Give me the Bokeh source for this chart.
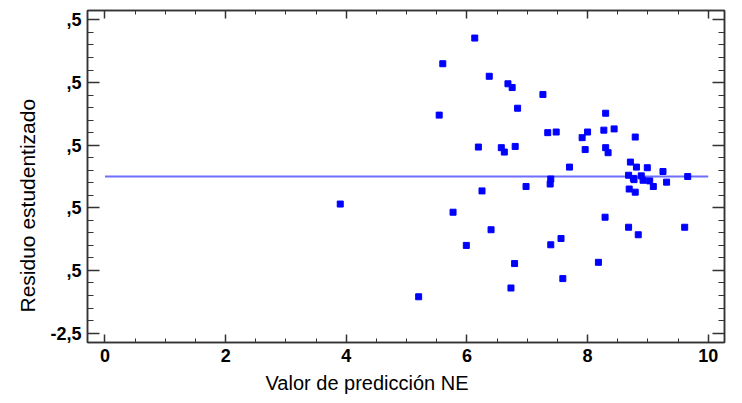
import numpy as np
from bokeh.plotting import figure
from bokeh.models import LinearAxis, FixedTicker, Range1d, ColumnDataSource, Title
from bokeh.embed import file_html
from bokeh.resources import INLINE

# ---- data ----
pred = [3.90, 5.20, 5.54, 5.60, 5.77, 5.99, 6.13, 6.19, 6.25, 6.37,
        6.40, 6.57, 6.62, 6.68, 6.75, 6.80, 6.84, 6.73, 6.79, 6.98,
        7.26, 7.34, 7.48, 7.39, 7.38, 7.39, 7.56, 7.59, 7.70, 7.91,
        8.00, 7.96, 8.18, 8.30, 8.27, 8.44, 8.30, 8.34, 8.29, 8.79,
        8.71, 8.81, 8.99, 9.25, 8.68, 8.76, 8.77, 8.89, 8.92, 9.03,
        9.09, 9.31, 9.66, 8.69, 8.79, 8.68, 8.84, 9.61]
resid = [-0.44, -1.92, 0.98, 1.80, -0.57, -1.10, 2.21, 0.47, -0.23, 1.60,
         -0.85, 0.46, 0.39, 1.48, 1.42, 0.48, 1.09, -1.78, -1.39, -0.16,
         1.31, 0.70, 0.71, -0.04, -0.12, -1.09, -0.99, -1.63, 0.15, 0.62,
         0.71, 0.43, -1.37, 1.01, 0.74, 0.76, 0.46, 0.38, -0.65, 0.63,
         0.23, 0.15, 0.14, 0.08, 0.02, -0.03, -0.05, 0.01, -0.06, -0.07,
         -0.16, -0.09, 0.00, -0.20, -0.25, -0.81, -0.93, -0.81]
fit_x = [0, 10]
fit_y = [0, 0]

x_ticks = [0, 2, 4, 6, 8, 10]
x_tick_labels = ["0", "2", "4", "6", "8", "10"]
y_ticks = [2.5, 1.5, 0.5, -0.5, -1.5, -2.5]
y_tick_labels = [",5", ",5", ",5", ",5", ",5", "-2,5"]
x_title = "Valor de predicción NE"
y_title = "Residuo estudentizado"

AX = "#333333"
FONT = "Liberation Sans"

p = figure(width=742, height=403, output_backend="svg", toolbar_location=None,
           x_range=Range1d(-0.29, 10.27), y_range=Range1d(-2.65, 2.65),
           min_border_left=87, min_border_right=18, min_border_top=10,
           min_border_bottom=61)
p.xgrid.visible = False
p.ygrid.visible = False
p.outline_line_color = AX
p.outline_line_width = 1.5
p.background_fill_color = "white"
p.border_fill_color = "white"

xt = FixedTicker(ticks=x_ticks, minor_ticks=list(np.arange(0, 10.01, 0.5)))
yt = FixedTicker(ticks=y_ticks, minor_ticks=list(np.round(np.arange(-2.5, 2.51, 0.2), 2)))


def style(ax, tin, tmin):
    ax.axis_line_color = AX
    ax.axis_line_width = 1.5
    ax.major_tick_line_color = AX
    ax.minor_tick_line_color = AX
    ax.major_tick_line_width = 1.5
    ax.minor_tick_line_width = 1
    ax.major_tick_in = tin
    ax.major_tick_out = 0
    ax.minor_tick_in = tmin
    ax.minor_tick_out = 0
    ax.major_label_text_font = FONT
    ax.major_label_text_font_style = "bold"
    ax.major_label_text_font_size = "18px"
    ax.major_label_text_color = "black"


bx = p.xaxis[0]
bx.ticker = xt
style(bx, 8, 4)
bx.major_label_overrides = dict(zip(x_ticks, x_tick_labels))
bx.major_label_standoff = 6

ly = p.yaxis[0]
ly.ticker = yt
style(ly, 12, 6)
ly.major_label_overrides = dict(zip(y_ticks, y_tick_labels))
ly.major_label_standoff = 6

top = LinearAxis(ticker=xt)
style(top, 8, 4)
top.major_label_text_font_size = "0px"
top.major_label_standoff = 0
p.add_layout(top, "above")

right = LinearAxis(ticker=yt)
style(right, 12, 6)
right.major_label_text_font_size = "0px"
right.major_label_standoff = 0
p.add_layout(right, "right")

# fitted zero line and residual points
p.line(fit_x, fit_y, line_color="#6f6fff", line_width=2)
src = ColumnDataSource(dict(x=pred, y=resid))
p.scatter("x", "y", source=src, marker="square", size=6,
          fill_color="#0000ff", line_color="#0000ff", line_width=1)

# axis titles (as side titles so they can sit off-centre like the reference)
p.add_layout(Title(text=y_title, align="left", offset=30, standoff=15,
                   vertical_align="middle",
                   text_font=FONT, text_font_size="21px",
                   text_font_style="normal", text_color="black"), "left")
p.add_layout(Title(text=x_title, align="left", offset=178, standoff=10,
                   vertical_align="bottom",
                   text_font=FONT, text_font_size="20px",
                   text_font_style="normal", text_color="black"), "below")

open("out.html", "w").write(file_html(p, INLINE))
